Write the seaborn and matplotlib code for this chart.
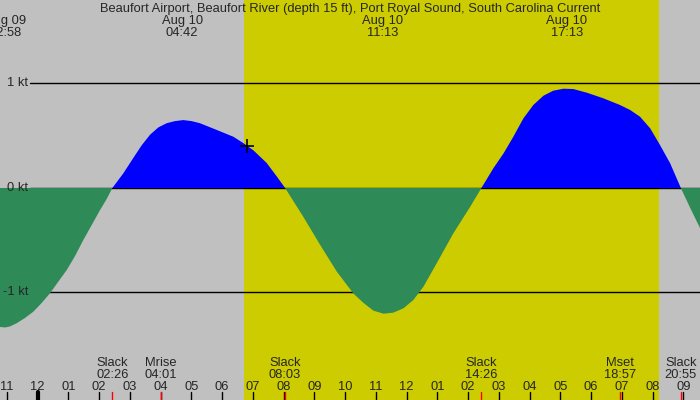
import numpy as np
import matplotlib
matplotlib.use('Agg')
import matplotlib.pyplot as plt
import seaborn as sns

# hours from midnight Aug 10 (negative = Aug 09), current in knots
hours = [-1.22, -1.057, -0.894, -0.676, -0.407, -0.137, 0.137, 0.407, 0.667, 0.95,
         1.22, 1.489, 1.763, 2.033, 2.25, 2.433,
         2.79, 3.12, 3.39, 3.66, 3.93, 4.20, 4.47, 4.74, 5.01, 5.28, 5.83, 6.37, 6.69,
         7.02, 7.45, 7.78, 8.05,
         8.64, 9.19, 9.73, 10.27, 10.60, 10.92, 11.25, 11.57, 11.90, 12.22, 12.55,
         12.98, 13.52, 14.07, 14.433,
         14.82, 15.15, 15.47, 15.80, 16.12, 16.45, 16.77, 17.10, 17.42, 17.86, 18.40,
         18.94, 19.27, 19.59, 19.92, 20.24, 20.57, 20.917,
         21.22, 21.54]
knots = [-1.330, -1.335, -1.325, -1.294, -1.244, -1.184, -1.100, -1.007, -0.900, -0.785,
         -0.651, -0.498, -0.354, -0.211, -0.105, 0.0,
         0.14, 0.29, 0.41, 0.51, 0.58, 0.62, 0.64, 0.65, 0.64, 0.62, 0.555, 0.49, 0.43,
         0.36, 0.24, 0.11, 0.0,
         -0.275, -0.545, -0.80, -1.01, -1.10, -1.174, -1.203, -1.193, -1.151, -1.072, -0.944,
         -0.72, -0.434, -0.179, 0.0,
         0.188, 0.33, 0.49, 0.667, 0.794, 0.883, 0.931, 0.95, 0.947, 0.912, 0.858,
         0.794, 0.746, 0.682, 0.571, 0.411, 0.236, 0.0,
         -0.19, -0.383]

# max/min current labels at top
peak_hours = [-1.033, 4.70, 11.217, 17.217]
peak_days = ['Aug 09', 'Aug 10', 'Aug 10', 'Aug 10']
peak_times = ['22:58', '04:42', '11:13', '17:13']

# events at bottom
event_hours = [2.433, 4.017, 8.05, 14.433, 18.95, 20.917]
event_names = ['Slack', 'Mrise', 'Slack', 'Slack', 'Mset', 'Slack']
event_times = ['02:26', '04:01', '08:03', '14:26', '18:57', '20:55']

sunrise, sunset = 6.715, 20.21
now_hour, now_knots = 6.82, 0.40
kt_levels = [1, 0, -1]
kt_labels = ['1 kt', '0 kt', '-1 kt']

title = 'Beaufort Airport, Beaufort River (depth 15 ft), Port Royal Sound, South Carolina Current'

sns.set_style('white')
plt.rcParams['font.family'] = ['Liberation Sans', 'DejaVu Sans']
fs = 9.3

fig = plt.figure(figsize=(7, 4), dpi=100)
ax = fig.add_axes([0, 0, 1, 1])
ax.set_facecolor('#C0C0C0')
ax.set_xlim(-1.22, 21.54)
ax.set_ylim(-2.029, 1.799)
ax.axis('off')
fig.patch.set_facecolor('#C0C0C0')

ax.axvspan(sunrise, sunset, color='#CCCC00', lw=0, zorder=0)

x = np.array(hours)
y = np.array(knots)
for lvl, lab in zip(kt_levels, kt_labels):
    ax.plot([-0.244, 21.54], [lvl, lvl], color='black', lw=1, zorder=1)
    ax.text(-0.31, lvl, lab, ha='right', va='center', fontsize=fs, zorder=5)

ax.fill_between(x, 0, y, where=y >= 0, interpolate=True, color='#0000FF', lw=0, zorder=2)
ax.fill_between(x, 0, y, where=y <= 0, interpolate=True, color='#2E8B57', lw=0, zorder=2)

sns.scatterplot(x=[now_hour], y=[now_knots], marker='+', color='black', s=90,
                linewidth=1.2, ax=ax, zorder=4)

tr = ax.get_xaxis_transform()
ax.text(0.5, 1 - 12 / 400, title, transform=ax.transAxes, ha='center', va='baseline', fontsize=fs)
for h, d, t in zip(peak_hours, peak_days, peak_times):
    ax.text(h, 1 - 24 / 400, d, transform=tr, ha='center', va='baseline', fontsize=fs)
    ax.text(h, 1 - 36 / 400, t, transform=tr, ha='center', va='baseline', fontsize=fs)

for h, n, t in zip(event_hours, event_names, event_times):
    ax.text(h, 1 - 366 / 400, n, transform=tr, ha='center', va='baseline', fontsize=fs)
    ax.text(h, 1 - 377.7 / 400, t, transform=tr, ha='center', va='baseline', fontsize=fs)

# hour ticks
for h in range(-1, 22):
    lab = '%02d' % (12 if h % 12 == 0 else h % 12)
    ax.text(h, 1 - 389.5 / 400, lab, transform=tr, ha='center', va='baseline', fontsize=fs)
    ax.plot([h, h], [0, 0.02], transform=tr, color='black', lw=3 if h == 0 else 1, zorder=5)
for h in event_hours:
    ax.plot([h, h], [0, 0.02], transform=tr, color='red', lw=1, zorder=6)

fig.savefig('out.png', dpi=100, facecolor=fig.get_facecolor())
